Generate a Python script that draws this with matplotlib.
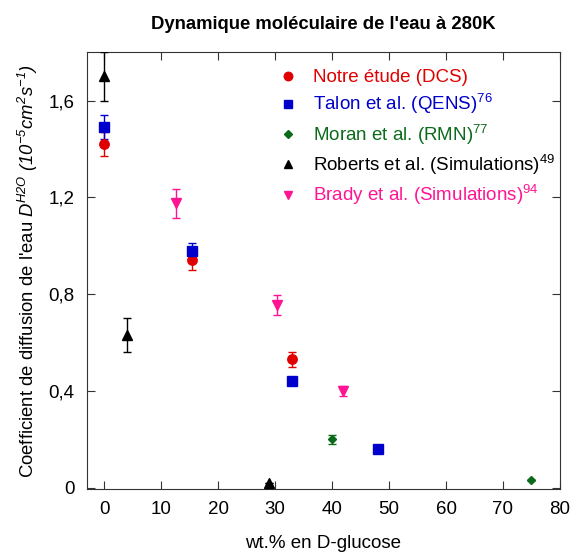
import matplotlib
matplotlib.use('Agg')
import matplotlib.pyplot as plt
from matplotlib.ticker import FuncFormatter

plt.rcParams['font.family'] = ['Liberation Sans', 'DejaVu Sans']
plt.rcParams['mathtext.fontset'] = 'custom'
plt.rcParams['mathtext.rm'] = 'Liberation Sans'
plt.rcParams['mathtext.it'] = 'Liberation Sans:italic'
# sf slot used for fully italic text (digits included)
plt.rcParams['mathtext.sf'] = 'Liberation Sans:italic'

# data
x_dcs = [0, 15.5, 33]
y_dcs = [1.42, 0.94, 0.53]
e_dcs = [0.05, 0.04, 0.03]

x_talon = [0, 15.5, 33, 48]
y_talon = [1.49, 0.98, 0.44, 0.16]
e_talon = [0.05, 0.03, 0.015, 0.0]

x_moran = [40, 75]
y_moran = [0.20, 0.033]
e_moran = [0.02, 0.0]

x_rob = [0, 4, 29]
y_rob = [1.70, 0.63, 0.02]
e_rob = [0.10, 0.07, 0.0]

x_brady = [12.7, 30.3, 42]
y_brady = [1.175, 0.755, 0.40]
e_brady = [0.06, 0.04, 0.02]

series = [
    (x_dcs, y_dcs, e_dcs, 'o', '#e00000', 'Notre étude (DCS)', 6.8),
    (x_talon, y_talon, e_talon, 's', '#0000cc', 'Talon et al. (QENS)$^{76}$', 6.5),
    (x_moran, y_moran, e_moran, 'D', '#0b6b1b', 'Moran et al. (RMN)$^{77}$', 4.5),
    (x_rob, y_rob, e_rob, '^', '#000000', 'Roberts et al. (Simulations)$^{49}$', 6.5),
    (x_brady, y_brady, e_brady, 'v', '#ff1493', 'Brady et al. (Simulations)$^{94}$', 6.5),
]

fig = plt.figure(figsize=(5.72, 5.55), dpi=100)
ax = fig.add_axes([0.152, 0.119, 0.827, 0.787])

for xs, ys, es, m, c, lab, ms in series:
    ax.errorbar(xs, ys, yerr=es, fmt=m, color=c, ms=ms, capsize=3, elinewidth=1,
                capthick=1, label=lab, zorder=3)

ax.set_xlim(-3, 80)
ax.set_ylim(-0.005, 1.8)
ax.set_xticks(range(0, 81, 10))
ax.set_yticks([0, 0.4, 0.8, 1.2, 1.6])
ax.yaxis.set_major_formatter(FuncFormatter(lambda v, p: '0' if v == 0 else ('%.1f' % v).replace('.', ',')))
ax.tick_params(direction='in', top=True, right=True, length=6, labelsize=13.5, pad=9, color='#333333')
for s in ax.spines.values():
    s.set_color('#333333')

ax.set_title("Dynamique moléculaire de l'eau à 280K", fontweight='bold', fontsize=13.3, pad=17)
ax.set_xlabel('wt.% en D-glucose', fontsize=13.5, labelpad=12)
ax.set_ylabel("Coefficient de diffusion de l'eau $\\mathsf{D^{H2O}}$ $\\mathsf{(10^{-5}cm^2s^{-1})}$",
              fontsize=13.3, labelpad=6)

h, l = ax.get_legend_handles_labels()
h = [hh[0] for hh in h]
leg = ax.legend(h, l, loc='upper left', bbox_to_anchor=(0.365, 1.0), frameon=False,
                fontsize=13.5, labelcolor='linecolor', handletextpad=0.75, labelspacing=0.33,
                handlelength=1.2, markerscale=0.9)

fig.savefig('out.png', dpi=100)
